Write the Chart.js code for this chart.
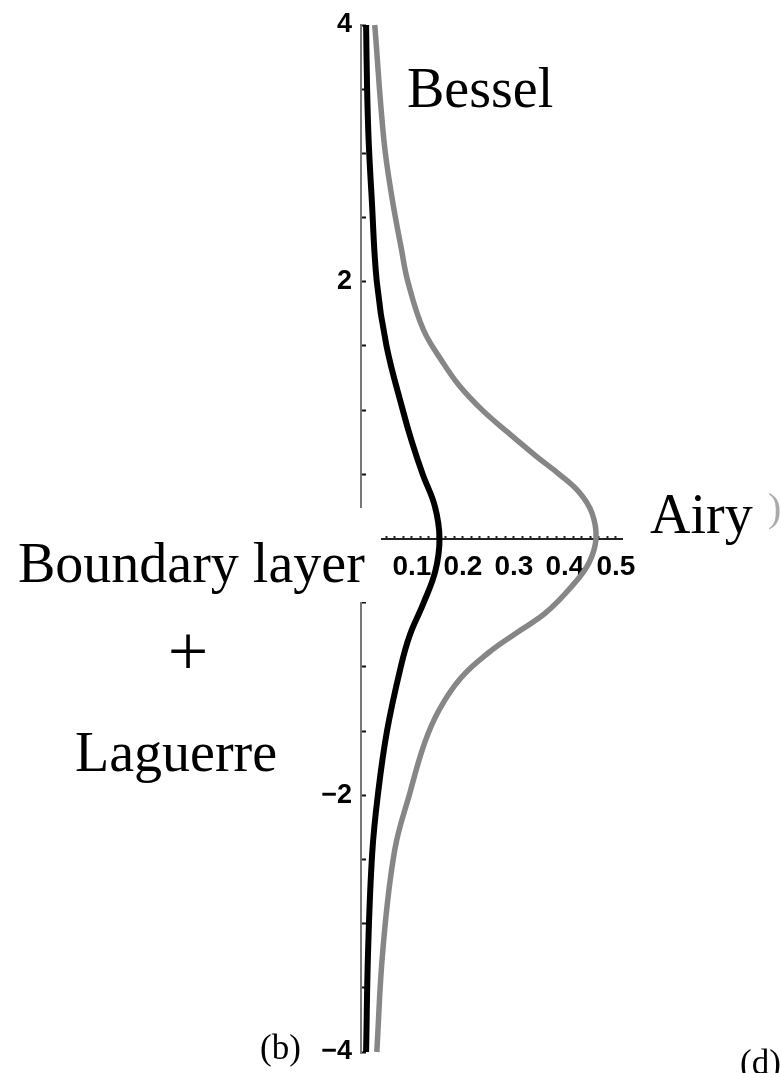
<!DOCTYPE html>
<html>
<head>
<meta charset="utf-8">
<script src="https://cdn.jsdelivr.net/npm/chart.js"></script>
<style>
  html, body { margin: 0; padding: 0; background: #fff; }
  #wrap { position: relative; width: 781px; height: 1073px; }
</style>
</head>
<body>
<div id="wrap"><canvas id="profiles"></canvas></div>
<script>
// boundary-layer profile (black): horizontal value at each height
const yBlack = [4, 3.5, 3.1, 2.65, 2, 1.5, 1, 0.75, 0.5, 0.25, 0, -0.25, -0.5, -0.75, -1, -1.5, -2, -2.45, -3.2, -4];
const xBlack = [0.010, 0.012, 0.015, 0.021, 0.031, 0.050, 0.082, 0.100, 0.121, 0.145, 0.154, 0.146, 0.123, 0.096, 0.078, 0.051, 0.033, 0.022, 0.014, 0.010];

// Airy profile (grey)
const yGray = [4, 3.1, 2.65, 2.26, 2, 1.63, 1.375, 1.19, 1, 0.83, 0.64, 0.5, 0.36, 0.2, 0, -0.19, -0.37, -0.58, -0.73, -0.89, -1.09, -1.33, -1.59, -1.98, -2.43, -3.2, -4];
const xGray = [0.027, 0.045, 0.061, 0.079, 0.092, 0.122, 0.160, 0.193, 0.238, 0.287, 0.344, 0.389, 0.428, 0.453, 0.461, 0.447, 0.414, 0.362, 0.307, 0.250, 0.195, 0.154, 0.125, 0.096, 0.066, 0.043, 0.031];

const yTickLabels = { '4': '4', '2': '2', '-2': '\u22122', '-4': '\u22124' };
const xTickLabels = [0.1, 0.2, 0.3, 0.4, 0.5];
const xMinorStep = 0.1 / 6;

const toPoints = (xs, ys) => xs.map((x, i) => ({ x, y: ys[i] }));

const xTicks = [];
for (let v = 0; v <= 0.512; v += xMinorStep) xTicks.push(+v.toFixed(5));

const serif = '"Liberation Serif", "DejaVu Serif", serif';
const sans = '"Liberation Sans", Arial, sans-serif';

const labels = {
  id: 'labels',
  afterDraw(chart) {
    const ctx = chart.ctx;
    ctx.save();
    // white backing behind the left-hand caption, it hides the axis there
    ctx.fillStyle = '#fff';
    ctx.fillRect(0, 508, 381, 94);

    ctx.fillStyle = '#000';
    ctx.textBaseline = 'alphabetic';
    ctx.textAlign = 'left';
    ctx.font = `56px ${serif}`;
    ctx.fillText('Bessel', 407, 107);
    ctx.fillText('Airy', 650, 533);
    ctx.fillText('Boundary layer', 18, 582);
    ctx.fillText('Laguerre', 75, 771);

    ctx.textAlign = 'center';
    ctx.font = `72px ${serif}`;
    ctx.fillText('+', 188, 675);

    ctx.textAlign = 'left';
    ctx.font = `35px ${serif}`;
    ctx.fillText('(b)', 260, 1059);
    ctx.fillText('(d)', 740, 1074);

    ctx.fillStyle = '#aaa';
    ctx.font = `40px ${serif}`;
    ctx.fillText(')', 768, 521);
    ctx.restore();
  }
};

const curve = (label, data, color, width) => ({
  label,
  data,
  borderColor: color,
  borderWidth: width,
  pointRadius: 0,
  tension: 0.4,
  clip: false,
});

new Chart(document.getElementById('profiles'), {
  type: 'line',
  data: {
    datasets: [
      curve('Airy', toPoints(xGray, yGray), '#868686', 5.5),
      curve('Boundary layer', toPoints(xBlack, yBlack), '#000', 6),
    ],
  },
  options: {
    indexAxis: 'y',
    responsive: true,
    maintainAspectRatio: false,
    animation: false,
    layout: { padding: { top: 25, bottom: 21, left: 0, right: 159 } },
    plugins: {
      legend: { display: false },
      tooltip: { enabled: false },
    },
    scales: {
      x: {
        type: 'linear',
        position: { y: 0 },
        min: 0,
        max: 0.512,
        afterBuildTicks: (scale) => { scale.ticks = xTicks.map(v => ({ value: v })); },
        border: { color: '#222', width: 2 },
        grid: { drawOnChartArea: false, tickLength: -4, tickColor: '#222', tickWidth: 2 },
        ticks: {
          autoSkip: false,
          maxRotation: 0,
          padding: 16,
          color: '#000',
          font: { family: sans, weight: 'bold', size: 28 },
          callback: (v) => {
            const hit = xTickLabels.find(t => Math.abs(t - v) < 1e-4);
            return hit ? hit.toFixed(1) : '';
          },
        },
      },
      y: {
        type: 'linear',
        position: 'left',
        min: -4,
        max: 4,
        afterFit: (scale) => {
          scale.width = 361;
          scale.paddingTop = 0;
          scale.paddingBottom = 0;
        },
        border: { color: '#777', width: 2 },
        grid: { drawOnChartArea: false, tickLength: -5, tickColor: '#111', tickWidth: 2 },
        ticks: {
          stepSize: 0.5,
          autoSkip: false,
          padding: 14,
          color: '#000',
          font: { family: sans, weight: 'bold', size: 27 },
          callback: (v) => yTickLabels[String(v)] ?? '',
        },
      },
    },
  },
  plugins: [labels],
});
</script>
</body>
</html>
